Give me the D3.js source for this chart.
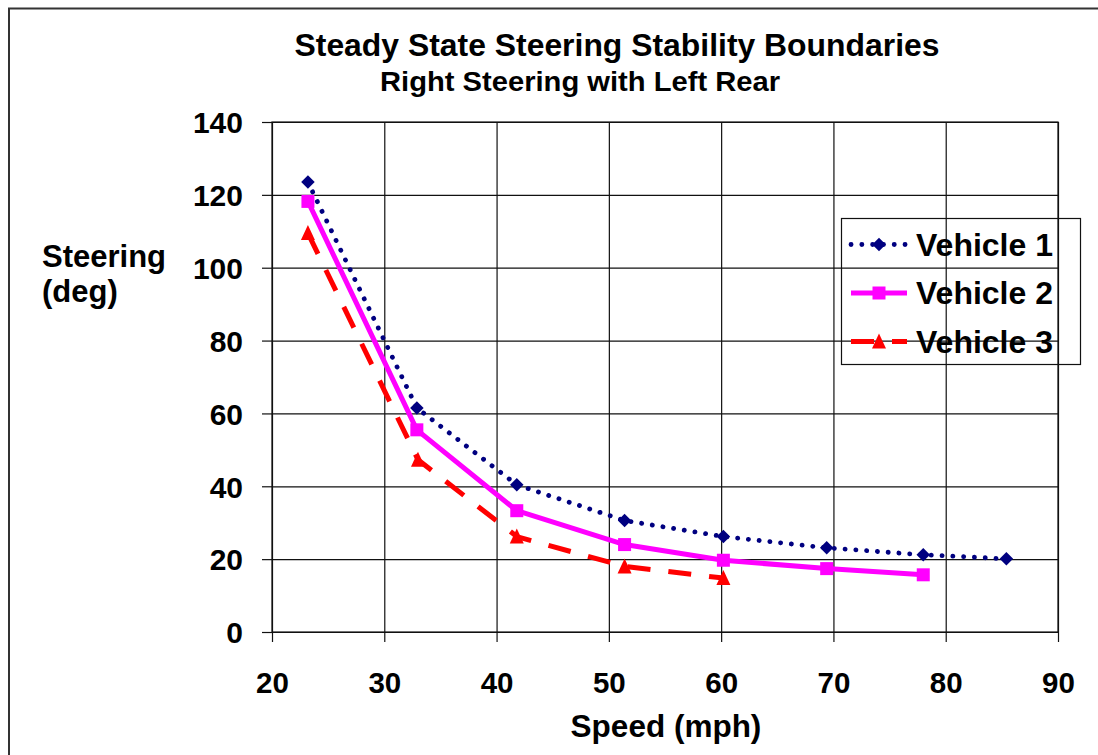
<!DOCTYPE html>
<html>
<head>
<meta charset="utf-8">
<script src="https://cdn.jsdelivr.net/npm/d3@7"></script>
<style>
  html, body { margin: 0; padding: 0; background: #fff; }
  svg { display: block; }
  text { font-family: "Liberation Sans", Arial, sans-serif; font-weight: bold; fill: #000; }
</style>
</head>
<body>
<svg id="chart" width="1098" height="755"></svg>
<script>
// ---- data ----
const speedsV1 = [23.2, 32.9, 41.8, 51.4, 60.2, 69.4, 78.0, 85.4];
const steerV1  = [123.5, 61.5, 40.4, 30.6, 26.2, 23.1, 21.2, 20.1];
const speedsV2 = [23.2, 32.9, 41.8, 51.4, 60.2, 69.4, 78.0];
const steerV2  = [118.2, 55.5, 33.3, 24.0, 19.7, 17.4, 15.7];
const speedsV3 = [23.2, 33.0, 41.8, 51.4, 60.2];
const steerV3  = [109.5, 47.3, 26.2, 18.0, 14.8];
const seriesNames = ["Vehicle 1", "Vehicle 2", "Vehicle 3"];
const xTicks = [20, 30, 40, 50, 60, 70, 80, 90];
const yTicks = [0, 20, 40, 60, 80, 100, 120, 140];
const titleText = "Steady State Steering Stability Boundaries";
const subtitleText = "Right Steering with Left Rear";
const xLabel = "Speed (mph)";
const yLabelLines = ["Steering", "(deg)"];

const svg = d3.select("#chart");

// outer border
svg.append("rect").attr("x", 9).attr("y", 8.5).attr("width", 1200).attr("height", 1000)
  .attr("fill", "none").attr("stroke", "#333").attr("stroke-width", 2);

const pL = 272, pR = 1058, pT = 122, pB = 632;
const x = d3.scaleLinear().domain([20, 90]).range([pL, pR]);
const y = d3.scaleLinear().domain([0, 140]).range([pB, pT]);

// grid via axes
const gx = svg.append("g").attr("transform", `translate(0,${pB})`)
  .call(d3.axisBottom(x).tickValues(xTicks).tickSize(-(pB - pT)).tickSizeOuter(0).tickFormat(""));
const gy = svg.append("g").attr("transform", `translate(${pL},0)`)
  .call(d3.axisLeft(y).tickValues(yTicks).tickSize(-(pR - pL)).tickSizeOuter(0).tickFormat(""));
[gx, gy].forEach(g => {
  g.select(".domain").remove();
  g.selectAll(".tick line").attr("stroke", "#111").attr("stroke-width", 1.2);
});
// outward tick marks + labels
const tx = svg.append("g").attr("transform", `translate(0,${pB})`)
  .call(d3.axisBottom(x).tickValues(xTicks).tickSize(10).tickSizeOuter(0).tickPadding(20)
    .tickFormat(d3.format("d")));
const ty = svg.append("g").attr("transform", `translate(${pL},0)`)
  .call(d3.axisLeft(y).tickValues(yTicks).tickSize(10).tickSizeOuter(0).tickPadding(19)
    .tickFormat(d3.format("d")));
[tx, ty].forEach(g => {
  g.select(".domain").remove();
  g.selectAll(".tick line").attr("stroke", "#111").attr("stroke-width", 1.2);
});
tx.selectAll("text").attr("font-size", 29.5).attr("font-family", "Liberation Sans, Arial, sans-serif")
  .attr("font-weight", "bold").attr("fill", "#000").attr("dy", "1.05em");
ty.selectAll("text").attr("font-size", 30).attr("font-family", "Liberation Sans, Arial, sans-serif")
  .attr("font-weight", "bold").attr("fill", "#000").attr("dy", "0.36em");
// plot border
svg.append("rect").attr("x", pL).attr("y", pT).attr("width", pR - pL).attr("height", pB - pT)
  .attr("fill", "none").attr("stroke", "#111").attr("stroke-width", 1.2);

// titles
svg.append("text").attr("x", 617).attr("y", 56).attr("text-anchor", "middle")
  .attr("font-size", 32).attr("textLength", 645).attr("lengthAdjust", "spacingAndGlyphs").text(titleText);
svg.append("text").attr("x", 580).attr("y", 91).attr("text-anchor", "middle")
  .attr("font-size", 28).attr("textLength", 400).attr("lengthAdjust", "spacingAndGlyphs").text(subtitleText);
svg.append("text").attr("x", 666).attr("y", 737).attr("text-anchor", "middle")
  .attr("font-size", 31.5).text(xLabel);
svg.append("text").attr("x", 42).attr("y", 267).attr("font-size", 31).text(yLabelLines[0]);
svg.append("text").attr("x", 42).attr("y", 302).attr("font-size", 31).text(yLabelLines[1]);

// series
const series = [
  { name: seriesNames[0], xs: speedsV1, ys: steerV1, color: "#000080", width: 4.8, dash: "0.1 10.7", cap: "round", symbol: "diamond", size: 13.5 },
  { name: seriesNames[1], xs: speedsV2, ys: steerV2, color: "#FF00FF", width: 5, dash: null, cap: "butt", symbol: "square", size: 13 },
  { name: seriesNames[2], xs: speedsV3, ys: steerV3, color: "#FF0000", width: 5, dash: "23 18", cap: "butt", symbol: "triangle", size: 14 }
];

function markerPath(sym, s) {
  const h = s / 2;
  if (sym === "diamond") return `M0,${-h}L${h},0L0,${h}L${-h},0Z`;
  if (sym === "square") return `M${-h},${-h}H${h}V${h}H${-h}Z`;
  return `M0,${-h - 1}L${h},${h}L${-h},${h}Z`;
}

const line = d3.line().x(d => x(d[0])).y(d => y(d[1]));
series.forEach(s => {
  const pts = s.xs.map((v, i) => [v, s.ys[i]]);
  svg.append("path").attr("d", line(pts)).attr("fill", "none").attr("stroke", s.color)
    .attr("stroke-width", s.width).attr("stroke-linecap", s.cap).attr("stroke-linejoin", "round")
    .attr("stroke-dasharray", s.dash);
  svg.append("g").selectAll("path").data(pts).join("path")
    .attr("transform", d => `translate(${x(d[0])},${y(d[1])})`)
    .attr("d", markerPath(s.symbol, s.size)).attr("fill", s.color);
});

// legend
const lg = svg.append("g");
lg.append("rect").attr("x", 841.5).attr("y", 218.5).attr("width", 239).attr("height", 146)
  .attr("fill", "none").attr("stroke", "#111").attr("stroke-width", 1.2);
const rowY = [244.5, 293, 341.5];
series.forEach((s, i) => {
  const yy = rowY[i];
  lg.append("path").attr("d", `M851,${yy}H907`).attr("stroke", s.color).attr("stroke-width", s.width)
    .attr("stroke-linecap", s.cap).attr("stroke-dasharray", s.dash).attr("fill", "none");
  lg.append("path").attr("transform", `translate(879,${yy})`).attr("d", markerPath(s.symbol, s.size)).attr("fill", s.color);
  lg.append("text").attr("x", 916).attr("y", yy + 11).attr("font-size", 32).text(s.name);
});
</script>
</body>
</html>
